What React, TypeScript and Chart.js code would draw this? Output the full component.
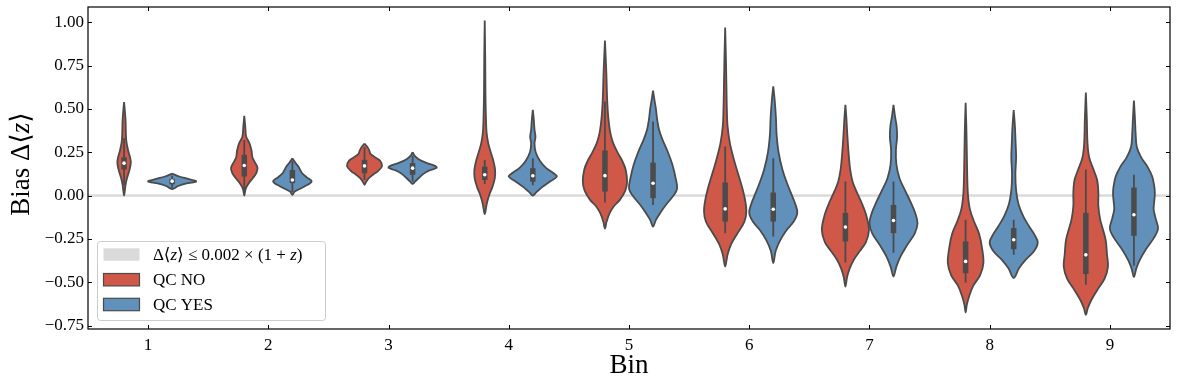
import React, { useEffect, useRef } from 'react';
import { Chart, registerables } from 'chart.js';

Chart.register(...registerables);

// ---------- data ----------
const bins = ['1', '2', '3', '4', '5', '6', '7', '8', '9'];
const yTicks = [-0.75, -0.5, -0.25, 0, 0.25, 0.5, 0.75, 1.0];
const yRange = [-0.77, 1.088];
const thresholdBand = [-0.007, 0.007];

const seriesNames = ['QC NO', 'QC YES'];

// violin outlines: [value, relative density] from top to bottom
const qcNoProfiles: number[][][] = [
  [[0.54, 0], [0.44, 0.06], [0.32, 0.09], [0.26, 0.17], [0.22, 0.25], [0.19, 0.28], [0.15, 0.23], [0.1, 0.12], [0.06, 0.06], [0.0, 0]],
  [[0.46, 0], [0.4, 0.04], [0.34, 0.08], [0.3, 0.22], [0.26, 0.3], [0.22, 0.34], [0.19, 0.45], [0.16, 0.55], [0.13, 0.5], [0.1, 0.35], [0.07, 0.18], [0.04, 0.06], [0.0, 0]],
  [[0.3, 0], [0.28, 0.12], [0.26, 0.2], [0.24, 0.25], [0.22, 0.45], [0.2, 0.65], [0.17, 0.73], [0.14, 0.55], [0.12, 0.35], [0.1, 0.18], [0.08, 0.07], [0.062, 0]],
  [[1.01, 0], [0.8, 0.02], [0.6, 0.03], [0.45, 0.05], [0.36, 0.08], [0.3, 0.15], [0.25, 0.25], [0.2, 0.36], [0.15, 0.43], [0.1, 0.42], [0.05, 0.32], [0.0, 0.18], [-0.05, 0.08], [-0.107, 0]],
  [[0.894, 0], [0.8, 0.03], [0.7, 0.06], [0.6, 0.08], [0.53, 0.1], [0.45, 0.14], [0.38, 0.2], [0.34, 0.26], [0.3, 0.35], [0.245, 0.54], [0.2, 0.72], [0.15, 0.86], [0.08, 0.92], [0.03, 0.85], [-0.025, 0.62], [-0.06, 0.38], [-0.1, 0.2], [-0.15, 0.07], [-0.19, 0]],
  [[0.97, 0], [0.8, 0.03], [0.65, 0.05], [0.5, 0.07], [0.4, 0.1], [0.3, 0.2], [0.2, 0.38], [0.12, 0.55], [0.05, 0.7], [-0.02, 0.82], [-0.09, 0.88], [-0.15, 0.8], [-0.22, 0.5], [-0.28, 0.25], [-0.34, 0.1], [-0.41, 0]],
  [[0.523, 0], [0.45, 0.04], [0.35, 0.08], [0.25, 0.13], [0.15, 0.2], [0.08, 0.3], [0.03, 0.44], [-0.05, 0.7], [-0.12, 0.88], [-0.2, 0.98], [-0.27, 0.85], [-0.32, 0.6], [-0.37, 0.35], [-0.42, 0.18], [-0.47, 0.07], [-0.525, 0]],
  [[0.536, 0], [0.4, 0.03], [0.25, 0.05], [0.1, 0.07], [0.0, 0.1], [-0.08, 0.18], [-0.15, 0.35], [-0.22, 0.56], [-0.3, 0.68], [-0.39, 0.74], [-0.46, 0.6], [-0.52, 0.32], [-0.58, 0.15], [-0.63, 0.05], [-0.675, 0]],
  [[0.594, 0], [0.45, 0.04], [0.3, 0.07], [0.22, 0.14], [0.15, 0.32], [0.09, 0.47], [0.02, 0.52], [-0.06, 0.52], [-0.14, 0.6], [-0.2, 0.72], [-0.26, 0.83], [-0.34, 0.88], [-0.41, 0.92], [-0.48, 0.78], [-0.54, 0.5], [-0.6, 0.24], [-0.65, 0.08], [-0.688, 0]],
];

const qcYesProfiles: number[][][] = [
  [[0.127, 0], [0.11, 0.3], [0.095, 0.7], [0.081, 1.0], [0.07, 0.6], [0.055, 0.25], [0.037, 0]],
  [[0.215, 0], [0.19, 0.12], [0.167, 0.25], [0.13, 0.4], [0.105, 0.6], [0.081, 0.8], [0.052, 0.5], [0.023, 0.1], [0.004, 0]],
  [[0.25, 0], [0.23, 0.08], [0.21, 0.25], [0.19, 0.55], [0.17, 0.95], [0.16, 1.0], [0.145, 0.7], [0.125, 0.45], [0.1, 0.25], [0.08, 0.1], [0.067, 0]],
  [[0.494, 0], [0.44, 0.04], [0.38, 0.07], [0.34, 0.11], [0.3, 0.07], [0.25, 0.12], [0.2, 0.3], [0.16, 0.55], [0.13, 0.85], [0.11, 1.0], [0.08, 0.7], [0.05, 0.4], [0.02, 0.15], [0.0, 0]],
  [[0.606, 0], [0.55, 0.06], [0.5, 0.12], [0.44, 0.17], [0.38, 0.25], [0.32, 0.4], [0.25, 0.62], [0.18, 0.8], [0.1, 0.94], [0.04, 1.0], [0.0, 0.85], [-0.06, 0.5], [-0.1, 0.3], [-0.14, 0.12], [-0.179, 0]],
  [[0.63, 0], [0.55, 0.06], [0.45, 0.11], [0.35, 0.14], [0.25, 0.22], [0.15, 0.38], [0.08, 0.55], [0.02, 0.72], [-0.05, 0.92], [-0.1, 1.0], [-0.15, 0.85], [-0.2, 0.55], [-0.26, 0.28], [-0.32, 0.1], [-0.39, 0]],
  [[0.523, 0], [0.46, 0.06], [0.4, 0.13], [0.34, 0.15], [0.26, 0.1], [0.18, 0.12], [0.1, 0.25], [0.03, 0.48], [-0.04, 0.72], [-0.1, 0.9], [-0.16, 1.0], [-0.22, 0.88], [-0.29, 0.55], [-0.35, 0.3], [-0.41, 0.12], [-0.467, 0]],
  [[0.494, 0], [0.4, 0.05], [0.3, 0.08], [0.22, 0.1], [0.12, 0.07], [0.03, 0.1], [-0.05, 0.2], [-0.12, 0.4], [-0.18, 0.65], [-0.23, 0.88], [-0.27, 1.0], [-0.32, 0.85], [-0.37, 0.5], [-0.42, 0.22], [-0.476, 0]],
  [[0.548, 0], [0.45, 0.04], [0.36, 0.07], [0.28, 0.12], [0.22, 0.3], [0.17, 0.55], [0.11, 0.76], [0.05, 0.85], [0.01, 0.87], [-0.04, 0.84], [-0.08, 0.82], [-0.13, 0.9], [-0.19, 1.0], [-0.24, 0.85], [-0.31, 0.5], [-0.37, 0.25], [-0.42, 0.1], [-0.47, 0]],
];

// box statistics
const qcNoMedian = [0.187, 0.173, 0.171, 0.12, 0.115, -0.077, -0.182, -0.38, -0.342];
const qcNoQ1 = [0.15, 0.11, 0.129, 0.09, 0.023, -0.15, -0.265, -0.448, -0.453];
const qcNoQ3 = [0.22, 0.235, 0.206, 0.167, 0.26, 0.075, -0.1, -0.265, -0.1];
const qcNoWhiskLo = [0.06, 0.03, 0.09, 0.067, -0.04, -0.217, -0.386, -0.502, -0.515];
const qcNoWhiskHi = [0.33, 0.32, 0.28, 0.206, 0.542, 0.283, 0.081, -0.14, 0.15];

const qcYesMedian = [0.083, 0.09, 0.158, 0.114, 0.071, -0.079, -0.144, -0.255, -0.111];
const qcYesQ1 = [0.065, 0.072, 0.12, 0.08, -0.015, -0.15, -0.217, -0.31, -0.232];
const qcYesQ3 = [0.095, 0.148, 0.187, 0.158, 0.19, 0.017, -0.054, -0.188, 0.046];
const qcYesWhiskLo = [0.045, 0.02, 0.08, 0.06, -0.054, -0.236, -0.33, -0.342, -0.405];
const qcYesWhiskHi = [0.115, 0.2, 0.23, 0.215, 0.427, 0.215, 0.081, -0.14, 0.12];

// ---------- style ----------
const RED = '#cf5848';
const BLUE = '#6190bb';
const EDGE = '#4b4b4b';
const BAND = '#dadada';
const FONT = "'Liberation Serif', 'DejaVu Serif', serif";
const HUE_OFFSET = 0.2;
const MAX_HALF = 0.2;

function outline(center: number, profile: number[][]) {
  const right = profile.map(([v, d]) => ({ x: center + d * MAX_HALF, y: v }));
  const left = profile
    .slice(1, -1)
    .reverse()
    .map(([v, d]) => ({ x: center - d * MAX_HALF, y: v }));
  return [...right, ...left, right[0]];
}

function fmtTick(v: number) {
  const s = Math.abs(v).toFixed(2);
  return v < 0 ? '\u2212' + s : s;
}

type Piece = [string, boolean];

function drawRich(ctx: CanvasRenderingContext2D, pieces: Piece[], x: number, y: number, size: number, align: 'left' | 'center') {
  const fontOf = (it: boolean) => `${it ? 'italic ' : ''}${size}px ${FONT}`;
  let total = 0;
  const widths = pieces.map(([t, it]) => {
    ctx.font = fontOf(it);
    const w = ctx.measureText(t).width;
    total += w;
    return w;
  });
  let cx = align === 'center' ? x - total / 2 : x;
  ctx.textAlign = 'left';
  pieces.forEach(([t, it], i) => {
    ctx.font = fontOf(it);
    ctx.fillText(t, cx, y);
    cx += widths[i];
  });
}

const decorPlugin = {
  id: 'decor',
  beforeDatasetsDraw(chart: any) {
    const { ctx, chartArea: a, scales } = chart;
    const y1 = scales.y.getPixelForValue(thresholdBand[1]);
    const y0 = scales.y.getPixelForValue(thresholdBand[0]);
    ctx.save();
    ctx.fillStyle = BAND;
    ctx.fillRect(a.left, y1, a.right - a.left, y0 - y1);
    ctx.restore();
  },
  afterDraw(chart: any) {
    const { ctx, chartArea: a, scales } = chart;
    ctx.save();
    // frame
    ctx.strokeStyle = '#000';
    ctx.lineWidth = 1.2;
    ctx.strokeRect(a.left, a.top, a.right - a.left, a.bottom - a.top);
    // inward ticks
    ctx.lineWidth = 1;
    ctx.beginPath();
    yTicks.forEach((v) => {
      const py = Math.round(scales.y.getPixelForValue(v)) + 0.5;
      ctx.moveTo(a.left, py);
      ctx.lineTo(a.left + 4, py);
      ctx.moveTo(a.right - 4, py);
      ctx.lineTo(a.right, py);
    });
    bins.forEach((_, i) => {
      const px = Math.round(scales.x.getPixelForValue(i + 1)) + 0.5;
      ctx.moveTo(px, a.bottom);
      ctx.lineTo(px, a.bottom - 4);
      ctx.moveTo(px, a.top);
      ctx.lineTo(px, a.top + 4);
    });
    ctx.stroke();

    // axis titles
    ctx.fillStyle = '#000';
    ctx.textBaseline = 'alphabetic';
    drawRich(ctx, [['Bin', false]], (a.left + a.right) / 2, 373, 27, 'center');
    ctx.save();
    ctx.translate(28.5, 164);
    ctx.rotate(-Math.PI / 2);
    drawRich(ctx, [['Bias \u0394\u27E8', false], ['z', true], ['\u27E9', false]], 0, 0, 27, 'center');
    ctx.restore();

    // legend
    const bx = a.left + 9;
    const by = a.bottom - 88;
    const bw = 228;
    const bh = 79;
    ctx.beginPath();
    (ctx as any).roundRect(bx + 0.5, by + 0.5, bw, bh, 3);
    ctx.fillStyle = 'rgba(255,255,255,0.8)';
    ctx.fill();
    ctx.strokeStyle = '#cccccc';
    ctx.lineWidth = 1;
    ctx.stroke();

    const rows = [13.5, 38.7, 63.5];
    const px = bx + 6.5;
    const pw = 36;
    const ph = 12.4;
    ctx.fillStyle = BAND;
    ctx.fillRect(px, by + rows[0] - ph / 2, pw, ph);
    [RED, BLUE].forEach((c, i) => {
      ctx.fillStyle = c;
      ctx.fillRect(px, by + rows[i + 1] - ph / 2, pw, ph);
      ctx.strokeStyle = EDGE;
      ctx.lineWidth = 1.2;
      ctx.strokeRect(px, by + rows[i + 1] - ph / 2, pw, ph);
    });
    ctx.fillStyle = '#000';
    ctx.textBaseline = 'middle';
    const tx = px + 49.4;
    drawRich(
      ctx,
      [['\u0394\u27E8', false], ['z', true], ['\u27E9 \u2264 0.002 \u00D7 (1 + ', false], ['z', true], [')', false]],
      tx, by + rows[0] + 1, 17, 'left'
    );
    drawRich(ctx, [[seriesNames[0], false]], tx, by + rows[1] + 1, 17, 'left');
    drawRich(ctx, [[seriesNames[1], false]], tx, by + rows[2] + 1, 17, 'left');
    ctx.restore();
  },
};

export default function App() {
  const ref = useRef<HTMLCanvasElement | null>(null);

  useEffect(() => {
    if (!ref.current) return;
    const datasets: any[] = [];
    const hues = [
      { profiles: qcNoProfiles, color: RED, off: -HUE_OFFSET, med: qcNoMedian, q1: qcNoQ1, q3: qcNoQ3, lo: qcNoWhiskLo, hi: qcNoWhiskHi },
      { profiles: qcYesProfiles, color: BLUE, off: HUE_OFFSET, med: qcYesMedian, q1: qcYesQ1, q3: qcYesQ3, lo: qcYesWhiskLo, hi: qcYesWhiskHi },
    ];
    hues.forEach((h, hi) => {
      bins.forEach((_, i) => {
        const c = i + 1 + h.off;
        datasets.push({
          label: seriesNames[hi],
          data: outline(c, h.profiles[i]),
          borderColor: EDGE,
          backgroundColor: h.color,
          borderWidth: 1.8,
          fill: 'shape',
          tension: 0.35,
          pointRadius: 0,
          order: 3,
        });
        datasets.push({
          data: [{ x: c, y: h.lo[i] }, { x: c, y: h.hi[i] }],
          borderColor: EDGE,
          borderWidth: 1.8,
          pointRadius: 0,
          fill: false,
          order: 2,
        });
        datasets.push({
          data: [{ x: c, y: h.q1[i] }, { x: c, y: h.q3[i] }],
          borderColor: EDGE,
          borderWidth: 5.5,
          borderCapStyle: 'butt',
          pointRadius: 0,
          fill: false,
          order: 1,
        });
      });
      datasets.push({
        data: bins.map((_, i) => ({ x: i + 1 + h.off, y: h.med[i] })),
        showLine: false,
        pointRadius: 1.8,
        pointBackgroundColor: '#ffffff',
        pointBorderWidth: 0,
        order: 0,
      });
    });

    const chart = new Chart(ref.current, {
      type: 'line',
      data: { datasets },
      options: {
        animation: false,
        responsive: true,
        maintainAspectRatio: false,
        layout: { padding: { top: 7, right: 7, left: 0, bottom: 0 } },
        plugins: { legend: { display: false }, tooltip: { enabled: false } },
        scales: {
          x: {
            type: 'linear',
            min: 0.5,
            max: 9.5,
            grid: { display: false, drawTicks: false },
            border: { display: false },
            afterBuildTicks: (s: any) => {
              s.ticks = bins.map((_, i) => ({ value: i + 1 }));
            },
            afterFit: (s: any) => {
              s.height = 56;
              s.paddingLeft = 0;
              s.paddingRight = 0;
            },
            ticks: {
              padding: 6,
              color: '#000',
              font: { family: FONT, size: 17 },
              maxRotation: 0,
              callback: (v: any) => bins[Math.round(Number(v)) - 1] ?? '',
            },
          },
          y: {
            type: 'linear',
            min: yRange[0],
            max: yRange[1],
            grid: { display: false, drawTicks: false },
            border: { display: false },
            afterBuildTicks: (s: any) => {
              s.ticks = yTicks.map((v) => ({ value: v }));
            },
            afterFit: (s: any) => {
              s.width = 88;
              s.paddingTop = 0;
              s.paddingBottom = 0;
            },
            ticks: {
              padding: 4,
              color: '#000',
              font: { family: FONT, size: 17 },
              callback: (v: any) => fmtTick(Number(v)),
            },
          },
        },
      },
      plugins: [decorPlugin],
    } as any);
    return () => chart.destroy();
  }, []);

  return (
    <div style={{ position: 'fixed', left: 0, top: 0, width: 1177, height: 385, background: '#fff' }}>
      <canvas ref={ref} />
    </div>
  );
}
